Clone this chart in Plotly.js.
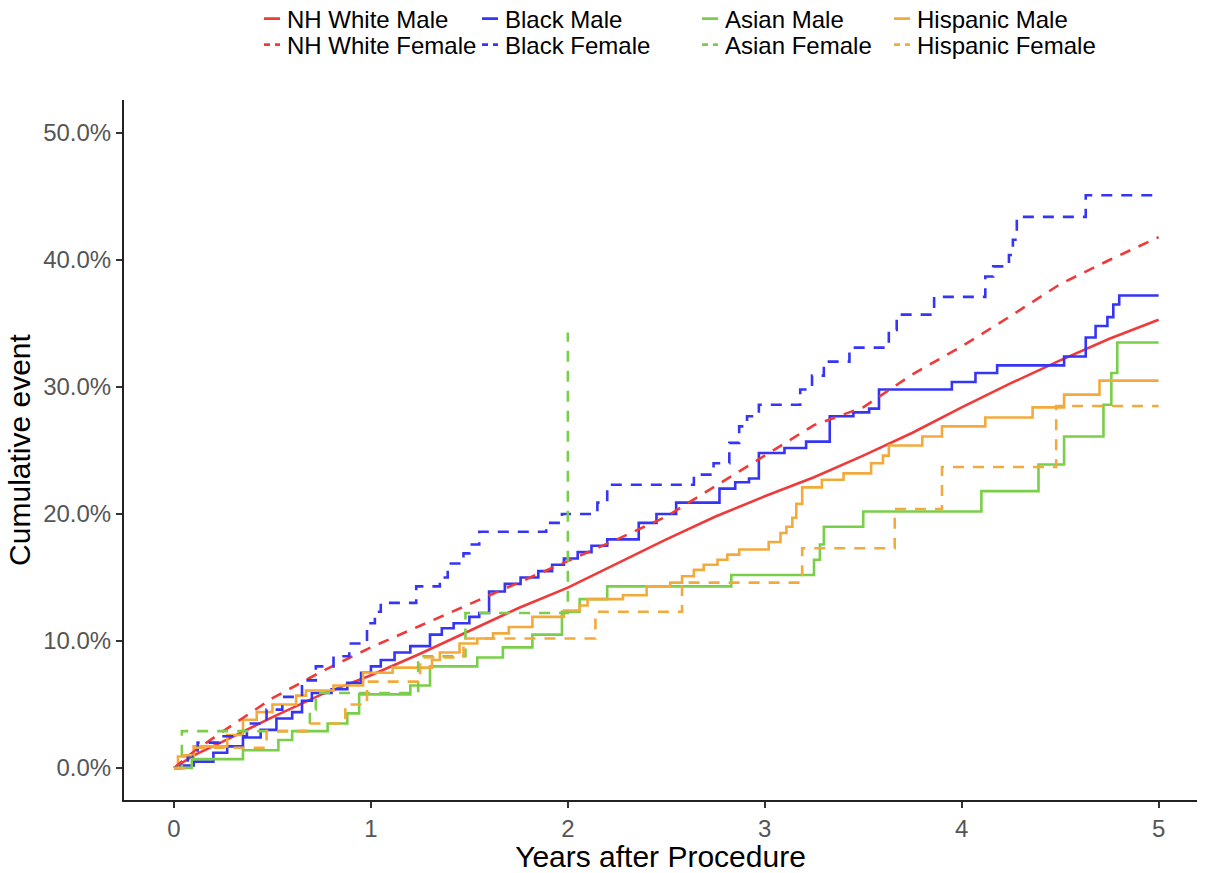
<!DOCTYPE html>
<html>
<head>
<meta charset="utf-8">
<script src="https://cdn.plot.ly/plotly-3.0.1.min.js"></script>
<style>html,body{margin:0;padding:0;background:#fff;}#chart{width:1214px;height:873px;}</style>
</head>
<body>
<div id="chart"></div>
<script>
// NH White (near-continuous curves, read at regular times)
const nhwmX = [0, 0.1, 0.25, 0.5, 0.75, 1, 1.25, 1.5, 1.75, 2, 2.25, 2.5, 2.75, 3, 3.25, 3.5, 3.75, 4, 4.25, 4.5, 4.75, 5];
const nhwmY = [0, 1.0, 2.1, 4.0, 5.8, 7.3, 9.0, 10.8, 12.6, 14.2, 16.1, 18.0, 19.8, 21.4, 22.9, 24.6, 26.4, 28.4, 30.3, 32.1, 33.8, 35.3];
const nhwfX = [0, 0.1, 0.25, 0.5, 0.75, 1, 1.25, 1.5, 1.75, 2, 2.25, 2.5, 2.75, 3, 3.25, 3.5, 3.75, 4, 4.25, 4.5, 4.75, 5];
const nhwfY = [0, 1.3, 2.9, 5.5, 7.6, 9.5, 11.2, 12.9, 14.6, 16.3, 18.0, 19.8, 22.2, 24.6, 27.0, 28.4, 31.0, 33.2, 35.6, 38.1, 40.0, 41.8];

// Black
const bmX = [0, 0.03, 0.1, 0.2, 0.27, 0.35, 0.44, 0.52, 0.6, 0.65, 0.7, 0.8, 0.88, 0.95, 1.0, 1.05, 1.12, 1.2, 1.3, 1.36, 1.42, 1.5, 1.55, 1.6, 1.68, 1.76, 1.85, 1.92, 1.98, 2.05, 2.12, 2.2, 2.36, 2.45, 2.55, 2.77, 2.85, 2.92, 2.97, 3.1, 3.21, 3.33, 3.45, 3.53, 3.58, 3.95, 4.07, 4.18, 4.52, 4.63, 4.68, 4.74, 4.77, 4.8, 5];
const bmY = [0, 0.2, 0.5, 1.2, 1.7, 2.4, 3.0, 3.9, 4.4, 5.3, 5.9, 6.2, 6.7, 7.5, 8.0, 8.5, 9.1, 9.6, 10.5, 11.0, 11.4, 11.9, 12.2, 13.9, 14.5, 15.0, 15.5, 16.0, 16.5, 17.0, 17.5, 18.0, 19.3, 20.0, 20.9, 22.0, 22.5, 22.8, 24.8, 25.2, 25.7, 27.7, 28.0, 28.3, 29.8, 30.4, 31.1, 31.7, 32.4, 33.9, 34.8, 35.5, 36.5, 37.2, 37.2];
const bfX = [0, 0.07, 0.12, 0.23, 0.37, 0.47, 0.55, 0.65, 0.72, 0.81, 0.89, 0.98, 1.02, 1.05, 1.23, 1.35, 1.39, 1.47, 1.5, 1.55, 1.89, 1.97, 2.15, 2.2, 2.64, 2.74, 2.82, 2.87, 2.91, 2.97, 3.18, 3.24, 3.3, 3.43, 3.63, 3.67, 3.86, 4.12, 4.16, 4.24, 4.26, 4.28, 4.63, 5];
const bfY = [0, 0.9, 2.0, 2.5, 3.5, 4.6, 5.6, 6.9, 8.0, 8.8, 9.8, 11.4, 12.3, 13.0, 14.3, 15.0, 16.1, 16.9, 17.6, 18.6, 19.3, 20.0, 20.9, 22.3, 23.1, 24.0, 25.6, 26.9, 27.7, 28.6, 29.8, 30.9, 32.0, 33.1, 34.5, 35.7, 37.1, 38.7, 39.5, 40.4, 41.6, 43.4, 45.1, 45.1];

// Asian
const amX = [0, 0.09, 0.35, 0.53, 0.6, 0.78, 0.88, 0.94, 1.2, 1.3, 1.54, 1.67, 1.82, 1.97, 2.06, 2.2, 2.83, 3.25, 3.28, 3.3, 3.5, 4.1, 4.39, 4.52, 4.72, 4.76, 4.79, 5];
const amY = [0, 0.7, 1.4, 2.2, 2.9, 3.5, 4.3, 5.8, 6.5, 8.0, 8.7, 9.5, 10.5, 12.3, 13.3, 14.3, 15.2, 16.4, 17.6, 19.0, 20.2, 21.8, 23.9, 26.1, 28.6, 31.1, 33.5, 33.5];
const afX = [0, 0.04, 0.69, 0.72, 1.24, 1.48, 2.0];
const afY = [0, 2.9, 4.6, 5.9, 8.8, 12.2, 34.3];

// Hispanic
const hmX = [0, 0.02, 0.1, 0.27, 0.35, 0.42, 0.5, 0.62, 0.67, 0.81, 0.96, 1.11, 1.31, 1.35, 1.45, 1.54, 1.62, 1.7, 1.82, 1.98, 2.06, 2.1, 2.28, 2.4, 2.52, 2.58, 2.64, 2.69, 2.76, 2.81, 2.87, 3.02, 3.08, 3.11, 3.14, 3.16, 3.19, 3.29, 3.4, 3.54, 3.6, 3.63, 3.8, 3.9, 4.12, 4.36, 4.52, 4.7, 5];
const hmY = [0, 0.9, 1.7, 2.6, 3.8, 4.4, 5.0, 5.7, 6.1, 6.5, 7.5, 7.9, 8.5, 9.1, 9.8, 10.2, 10.6, 11.1, 11.9, 12.4, 12.8, 13.3, 13.6, 14.3, 14.6, 15.1, 15.6, 16.0, 16.4, 16.8, 17.2, 17.8, 18.5, 19.0, 19.7, 20.8, 22.1, 22.7, 23.2, 24.0, 24.6, 25.4, 26.1, 26.9, 27.6, 28.4, 29.4, 30.5, 30.5];
const hfX = [0, 0.05, 0.1, 0.47, 0.68, 0.87, 0.98, 1.25, 1.47, 2.14, 2.58, 3.19, 3.66, 3.9, 4.48, 5];
const hfY = [0, 1.0, 1.6, 2.9, 3.5, 5.0, 6.8, 8.7, 10.2, 12.3, 14.6, 17.3, 20.4, 23.7, 28.5, 28.5];

const seriesNames = ['NH White Male', 'Black Male', 'Asian Male', 'Hispanic Male',
                     'NH White Female', 'Black Female', 'Asian Female', 'Hispanic Female'];
const xTickVals = [0, 1, 2, 3, 4, 5];
const yTickVals = [0, 0.1, 0.2, 0.3, 0.4, 0.5];

const RED = '#F03A3A', BLUE = '#3535F5', GREEN = '#79CF4A', ORANGE = '#F3AA3C';
const pct = a => a.map(v => v / 100);
const DASH = '11px,9px';
const legendIds = ['legend', 'legend2', 'legend3', 'legend4', 'legend5', 'legend6', 'legend7', 'legend8'];

function tr(i, x, y, color, dashed, shape) {
  return {
    type: 'scatter', mode: 'lines', name: seriesNames[i], x: x, y: pct(y),
    legend: legendIds[i],
    line: {color: color, width: 2.6, shape: shape, dash: dashed ? DASH : 'solid'},
    hoverinfo: 'skip'
  };
}

const data = [
  tr(0, nhwmX, nhwmY, RED, false, 'linear'),
  tr(1, bmX, bmY, BLUE, false, 'hv'),
  tr(2, amX, amY, GREEN, false, 'hv'),
  tr(3, hmX, hmY, ORANGE, false, 'hv'),
  tr(4, nhwfX, nhwfY, RED, true, 'linear'),
  tr(5, bfX, bfY, BLUE, true, 'hv'),
  tr(6, afX, afY, GREEN, true, 'hv'),
  tr(7, hfX, hfY, ORANGE, true, 'hv')
];

const FONT = 'Liberation Sans, Arial, sans-serif';
const plotL = 124, plotT = 100, plotW = 1214 - 124 - 17, plotH = 873 - 100 - 73;
const colTextPx = [288, 506, 726, 918];
const rowCenterPx = [19, 45];

const layout = {
  width: 1214, height: 873,
  paper_bgcolor: '#fff', plot_bgcolor: '#fff',
  margin: {l: 124, r: 17, t: 100, b: 73, autoexpand: false},
  font: {family: FONT, color: '#000'},
  showlegend: true,
  xaxis: {
    range: [-0.254, 5.195], tickvals: xTickVals, ticktext: xTickVals.map(String),
    showgrid: false, zeroline: false, showline: true, linecolor: '#222', linewidth: 2,
    ticks: 'outside', ticklen: 6, tickwidth: 2, tickcolor: '#333',
    tickfont: {family: FONT, size: 24, color: '#555'},
    title: {text: 'Years after Procedure', font: {family: FONT, size: 30, color: '#000'}, standoff: 8}
  },
  yaxis: {
    range: [-0.0252, 0.526], tickvals: yTickVals, tickformat: '.1%',
    showgrid: false, zeroline: false, showline: true, linecolor: '#222', linewidth: 2,
    ticks: 'outside', ticklen: 6, tickwidth: 2, tickcolor: '#333',
    tickfont: {family: FONT, size: 24, color: '#555'},
    title: {text: 'Cumulative event', font: {family: FONT, size: 30, color: '#000'}, standoff: 4}
  }
};

legendIds.forEach((id, i) => {
  const col = i % 4, row = Math.floor(i / 4);
  layout[id] = {
    orientation: 'v', xref: 'paper', yref: 'paper',
    x: (colTextPx[col] - 41 - plotL) / plotW, xanchor: 'left',
    y: (plotT + plotH - rowCenterPx[row]) / plotH, yanchor: 'middle',
    font: {family: FONT, size: 24, color: '#000'},
    itemwidth: 30, bgcolor: 'rgba(0,0,0,0)', borderwidth: 0
  };
});

Plotly.newPlot('chart', data, layout, {displayModeBar: false, staticPlot: true}).then(gd => {
  // shorter legend keys, as in the reference
  gd.querySelectorAll('.legendlines path').forEach(p => {
    p.setAttribute('d', 'M17,0h16');
    const da = p.style.strokeDasharray;
    if (da && da !== 'none') p.style.strokeDasharray = '6px,5px';
  });
});
</script>
</body>
</html>
